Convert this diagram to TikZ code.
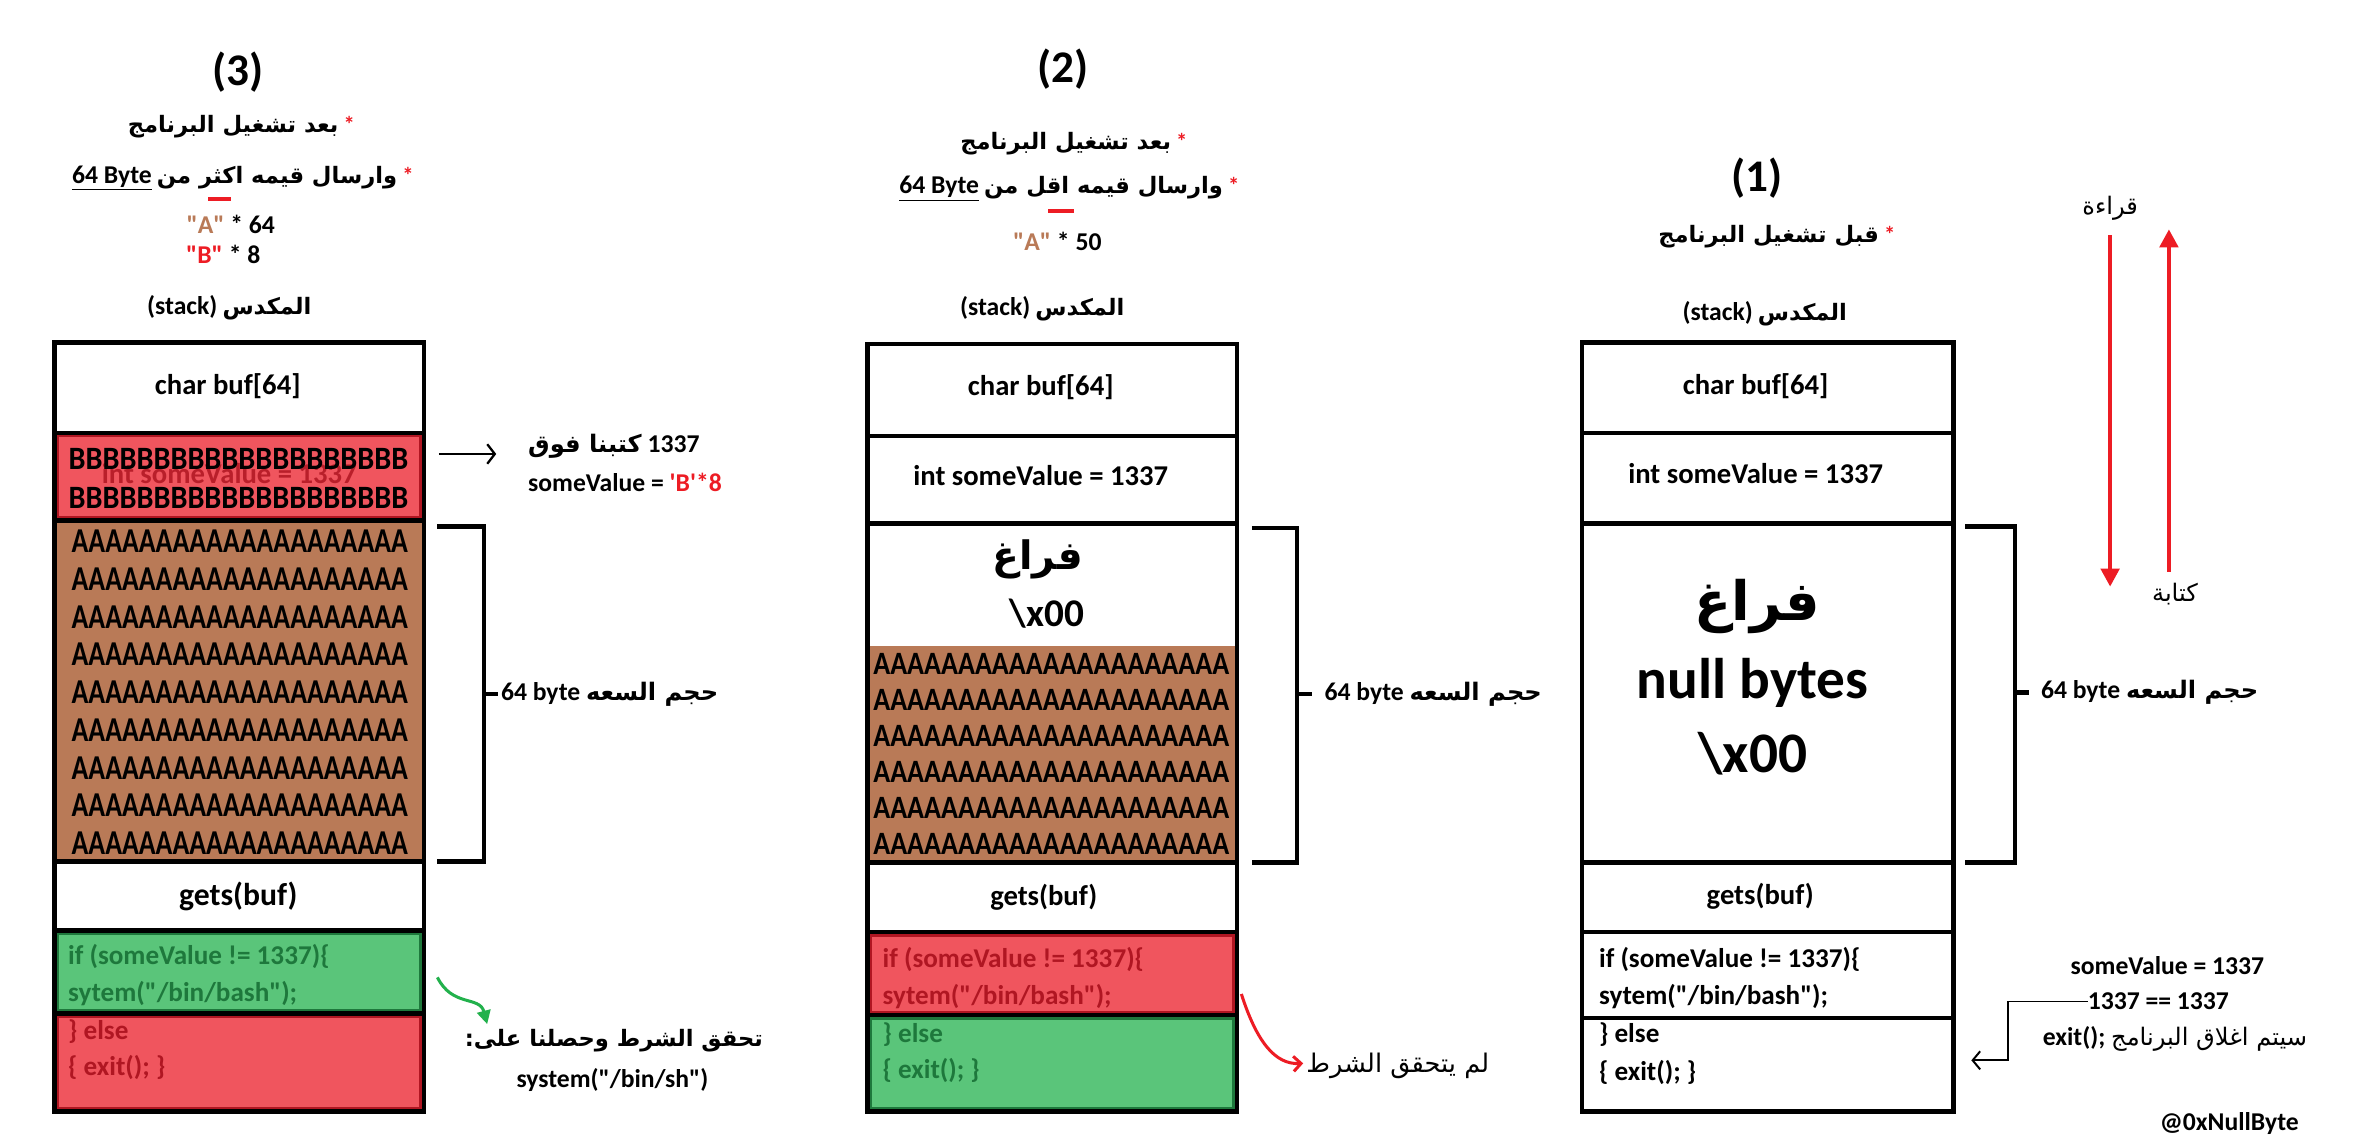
\documentclass[tikz,border=0pt]{standalone}
\usepackage{fontspec}
\usepackage{graphicx}
\setmainfont{Carlito}
\newfontfamily\carl{Carlito}
\newfontfamily\arfont[Script=Arabic]{DejaVu Sans}
\TeXXeTstate=1
\usetikzlibrary{arrows.meta}
\definecolor{redfill}{RGB}{240,85,94}
\definecolor{redline}{RGB}{176,22,34}
\definecolor{greenfill}{RGB}{90,197,122}
\definecolor{greenline}{RGB}{30,120,60}
\definecolor{brownfill}{RGB}{185,122,87}
\definecolor{ared}{RGB}{237,28,36}
\definecolor{agreen}{RGB}{34,177,76}
\newcommand\fsz[1]{\fontsize{#1}{#1}\selectfont}
\newcommand\AR[1]{{\arfont\beginR #1\endR}}
\newcommand\ARm[1]{{\arfont\mdseries\beginR #1\endR}}
\newcommand\Arow{AAAAAAAAAAAAAAAAAAAA}
\newcommand\Brow{BBBBBBBBBBBBBBBBBBBB}
\tikzset{
  txt/.style={inner sep=0pt, font=\carl\fsz{17}\bfseries},
  big/.style={inner sep=0pt, font=\carl\fsz{30}\bfseries},
  cell/.style={inner sep=0pt, font=\carl\fsz{19}\bfseries},
  code/.style={inner sep=0pt, anchor=west, font=\carl\fsz{18}\bfseries},
  frame/.style={line width=3pt},
  brace/.style={line width=3pt},
  inred/.style={draw=redline, line width=2pt},
  ingreen/.style={draw=greenline, line width=2pt},
  rarrow/.style={ared, line width=3pt, -{Triangle[length=12pt,width=12pt]}},
}
\begin{document}
\carl
\begin{tikzpicture}[x=1pt,y=-1pt]
\useasboundingbox (0,0) rectangle (1568,759);
\fill[white] (0,0) rectangle (1568,759);

% ================= column (3) =================
\node[big] (n3) at (158,48) {(3)};
\node[txt,font=\carl\fsz{15}\bfseries] (h3a) at (160,84) {\AR{بعد تشغيل البرنامج}\ \textcolor{ared}{*}};
\node[txt,font=\carl\fsz{15}\bfseries] (h3b) at (161,118) {{\fsz{17}\underline{64 Byte}}\ \AR{وارسال قيمه اكثر من}\ \textcolor{ared}{*}};
\draw[ared, line width=3pt] (138,132) -- (153,132);
\node[txt] (h3c) at (153,149) {\textcolor{brownfill}{"A"} * 64};
\node[txt] (h3d) at (148,169) {\textcolor{ared}{"B"} * 8};
\node[txt,font=\carl\fsz{15}\bfseries] (s3) at (152,204) {{\fsz{17}(stack)} \AR{المكدس}};

\fill[redfill] (36,287) rectangle (281,345);
\draw[inred] (38,289) rectangle (279,343);
\fill[brownfill] (36,345) rectangle (281,571);
\fill[greenfill] (36,617) rectangle (281,672);
\draw[ingreen] (38,619) rectangle (279,670);
\fill[redfill] (36,672) rectangle (281,737);
\draw[inred] (38,674) rectangle (279,735);
\draw[frame] (36,227) rectangle (281,737);
\foreach \yy in {287,345,571,617,672} \draw[frame] (36,\yy) -- (281,\yy);

\node[cell] (c3buf) at (151,256) {char buf[64]};
\node[cell,text=redline,opacity=0.85] (c3int) at (152,314) {int someValue = 1337};
\node[cell] (c3b1) at (158,304) {\resizebox{225pt}{14pt}{\Brow}};
\node[cell] (c3b2) at (158,330) {\resizebox{225pt}{14pt}{\Brow}};
\foreach \k in {0,...,8} \node[cell] (c3a\k) at (159,359+25*\k) {\resizebox{223pt}{15pt}{\Arow}};
\node[cell,font=\carl\fsz{21}\bfseries] (c3gets) at (158,594) {gets(buf)};
\node[code,text=greenline] (c3if) at (45,634) {if (someValue != 1337)\{};
\node[code,text=greenline] (c3sys) at (45,659) {sytem("/bin/bash");};
\node[code,text=redline] (c3else) at (45,684) {\} else};
\node[code,text=redline] (c3exit) at (45,708) {\{ exit(); \}};

\draw[brace] (290,349) -| (321,571) -- (290,571);
\draw[brace] (321,460) -- (330,460);
\node[txt,anchor=west] (L3) at (332,460) {64 byte {\fsz{16}\AR{حجم السعه}}};

\coordinate (o3a) at (291,301);
\coordinate (o3b) at (329,301);
\draw[line width=1.5pt, -{Straight Barb[length=5pt,width=13pt]}] (o3a) -- (o3b);
\node[txt,anchor=west] (w31) at (350,296) {{\fsz{16}\AR{كتبنا فوق}} 1337};
\node[txt,anchor=west] (w32) at (350,320) {someValue = \textcolor{ared}{'B'*8}};

\coordinate (g3a) at (290,648);
\coordinate (g3b) at (323,679);
\draw[agreen, line width=2pt, -{Triangle[length=9pt,width=9pt]}] (g3a) .. controls (300,668) and (318,660) .. (g3b);
\node[txt,font=\carl\fsz{15}\bfseries] (g31) at (407,690) {\AR{تحقق الشرط وحصلنا على:}};
\node[txt] (g32) at (406,716) {system("/bin/sh")};

% ================= column (2) =================
\node[big] (n2) at (705,46) {(2)};
\node[txt,font=\carl\fsz{15}\bfseries] (h2a) at (712,95) {\AR{بعد تشغيل البرنامج}\ \textcolor{ared}{*}};
\node[txt,font=\carl\fsz{15}\bfseries] (h2b) at (709,125) {{\fsz{17}\underline{64 Byte}}\ \AR{وارسال قيمه اقل من}\ \textcolor{ared}{*}};
\draw[ared, line width=3pt] (695,140) -- (712,140);
\node[txt] (h2c) at (701,160) {\textcolor{brownfill}{"A"} * 50};
\node[txt,font=\carl\fsz{15}\bfseries] (s2) at (691,205) {{\fsz{17}(stack)} \AR{المكدس}};

\fill[brownfill] (575,428) rectangle (820,572);
\fill[redfill] (575,618) rectangle (820,673);
\draw[inred] (577,620) rectangle (818,671);
\fill[greenfill] (575,673) rectangle (820,737);
\draw[ingreen] (577,675) rectangle (818,735);
\draw[frame] (575,228) rectangle (820,737);
\foreach \yy in {289,347,572,618,673} \draw[frame] (575,\yy) -- (820,\yy);

\node[cell] (c2buf) at (690,257) {char buf[64]};
\node[cell] (c2int) at (690,315) {int someValue = 1337};
\node[cell,font=\carl\fsz{26}\bfseries] (c2f) at (688,371) {\AR{فراغ}};
\node[cell,font=\carl\fsz{26}\bfseries] (c2x) at (694,407) {\textbackslash x00};
\foreach \k in {0,...,5} \node[cell] (c2a\k) at (697,440+23.9*\k) {\resizebox{236pt}{14pt}{\Arow A}};
\node[cell] (c2gets) at (692,595) {gets(buf)};
\node[code,text=redline] (c2if) at (585,636) {if (someValue != 1337)\{};
\node[code,text=redline] (c2sys) at (585,661) {sytem("/bin/bash");};
\node[code,text=greenline] (c2else) at (585,686) {\} else};
\node[code,text=greenline] (c2exit) at (585,710) {\{ exit(); \}};

\draw[brace] (830,350) -| (860,572) -- (830,572);
\draw[brace] (860,460) -- (870,460);
\node[txt,anchor=west] (L2) at (878,460) {64 byte {\fsz{16}\AR{حجم السعه}}};

\coordinate (r2a) at (823,659);
\coordinate (r2b) at (864,705);
\draw[ared, line width=2pt, -{Straight Barb[length=5pt,width=10pt]}] (r2a) .. controls (833,690) and (845,706) .. (r2b);
\node[txt,anchor=west,font=\carl\fsz{17}] (r21) at (866,707) {\ARm{لم يتحقق الشرط}};

% ================= column (1) =================
\node[big] (n1) at (1165,118) {(1)};
\node[txt,font=\carl\fsz{15}\bfseries] (h1a) at (1178,157) {\AR{قبل تشغيل البرنامج}\ \textcolor{ared}{*}};
\node[txt,font=\carl\fsz{15}\bfseries] (s1) at (1170,208) {{\fsz{17}(stack)} \AR{المكدس}};

\draw[frame] (1049,227) rectangle (1295,737);
\foreach \yy in {287,347,572,618,675} \draw[frame] (1049,\yy) -- (1295,\yy);

\node[cell] (c1buf) at (1164,256) {char buf[64]};
\node[cell] (c1int) at (1164,314) {int someValue = 1337};
\node[cell,font=\carl\fsz{36}\bfseries] (c1f) at (1165,402) {\AR{فراغ}};
\node[cell,font=\carl\fsz{38}\bfseries] (c1n) at (1162,453) {null bytes};
\node[cell,font=\carl\fsz{38}\bfseries] (c1x) at (1162,500) {\textbackslash x00};
\node[cell] (c1gets) at (1167,594) {gets(buf)};
\node[code] (c1if) at (1060,636) {if (someValue != 1337)\{};
\node[code] (c1sys) at (1060,661) {sytem("/bin/bash");};
\node[code] (c1else) at (1060,686) {\} else};
\node[code] (c1exit) at (1060,711) {\{ exit(); \}};

\draw[brace] (1303,349) -| (1336,572) -- (1303,572);
\draw[brace] (1336,459) -- (1345,459);
\node[txt,anchor=west] (L1) at (1353,459) {64 byte {\fsz{16}\AR{حجم السعه}}};

\coordinate (rd1) at (1399,156);
\coordinate (rd2) at (1399,389);
\coordinate (wu1) at (1438,379);
\coordinate (wu2) at (1438,152);
\draw[rarrow] (rd1) -- (rd2);
\draw[rarrow] (wu1) -- (wu2);
\node[txt,font=\carl\fsz{16}] (read) at (1399,138) {\ARm{قراءة}};
\node[txt,font=\carl\fsz{16}] (write) at (1442,394) {\ARm{كتابة}};

\node[txt] (e1) at (1437,640) {someValue = 1337};
\node[txt] (e2) at (1431,664) {1337 == 1337};
\node[txt] (e3) at (1442,689) {exit(); {\fsz{16}\ARm{سيتم اغلاق البرنامج}}};
\coordinate (e4) at (1307,703);
\draw[line width=1.3pt, -{Straight Barb[length=5pt,width=12pt]}] (e2.west) -- (1331,664) -- (1331,703) -- (e4);
\node[txt] (sig) at (1478,745) {@0xNullByte};
\end{tikzpicture}
\end{document}
